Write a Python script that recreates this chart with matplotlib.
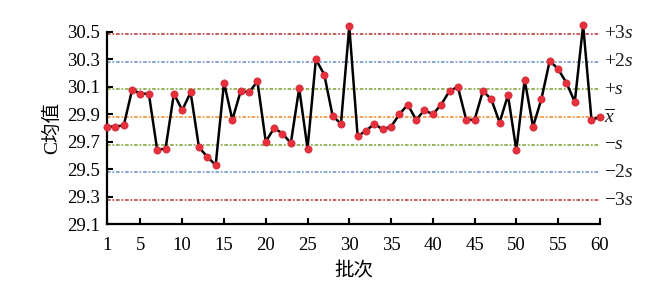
import matplotlib
matplotlib.use('Agg')
import matplotlib.pyplot as plt
import matplotlib.transforms as mtransforms
import numpy as np

plt.rcParams['font.family'] = ['Liberation Serif', 'Noto Sans CJK SC']
plt.rcParams['mathtext.fontset'] = 'custom'
plt.rcParams['mathtext.rm'] = 'Liberation Serif'
plt.rcParams['mathtext.it'] = 'Liberation Serif:italic'

# batch numbers and mean C values per batch
batches = np.arange(1, 61)
c_mean = [29.81, 29.81, 29.82, 30.08, 30.05, 30.05, 29.64, 29.65, 30.05, 29.93,
          30.06, 29.66, 29.59, 29.53, 30.13, 29.86, 30.07, 30.06, 30.14, 29.70,
          29.80, 29.76, 29.69, 30.09, 29.65, 30.30, 30.19, 29.89, 29.83, 30.54,
          29.74, 29.78, 29.83, 29.79, 29.81, 29.90, 29.97, 29.86, 29.93, 29.90,
          29.97, 30.07, 30.10, 29.86, 29.86, 30.07, 30.01, 29.84, 30.04, 29.64,
          30.15, 29.81, 30.01, 30.29, 30.23, 30.13, 29.99, 30.55, 29.86, 29.88]

# control limits
centre = 29.88
sigma = 0.202
limit_k = [3, 2, 1, 0, -1, -2, -3]
limit_labels = [r'$+3s$', r'$+2s$', r'$+s$', r'$\overline{x}$', r'$-s$', r'$-2s$', r'$-3s$']
limit_colors = ['#c0504d', '#7f9fcf', '#8fae4f', '#f79646', '#8fae4f', '#7f9fcf', '#c0504d']

xticks = [1, 5, 10, 15, 20, 25, 30, 35, 40, 45, 50, 55, 60]
yticks = [29.1, 29.3, 29.5, 29.7, 29.9, 30.1, 30.3, 30.5]

fig = plt.figure(figsize=(6.57, 2.88), dpi=100)
ax = fig.add_axes([0.163, 0.222, 0.75, 0.667])

trans = mtransforms.blended_transform_factory(ax.transAxes, ax.transData)
for k, lab, col in zip(limit_k, limit_labels, limit_colors):
    yv = centre + k * sigma
    ax.axhline(yv, color=col, lw=1.3, ls=(0, (2, 1, 1, 1)), zorder=1)
    ax.text(1.008, yv, lab, transform=trans, fontsize=14, va='center',
            ha='left', color='#1a1a1a')

ax.plot(batches, c_mean, color='black', lw=1.8, zorder=3, clip_on=False)
ax.plot(batches, c_mean, 'o', ms=5.2, mfc='#e8303a', mec='#c8283a', mew=0.5,
        zorder=4, clip_on=False)

ax.set_xlim(1, 60)
ax.set_ylim(29.1, 30.5)
ax.set_xticks(xticks)
ax.set_yticks(yticks)
ax.set_yticklabels(['%.1f' % v for v in yticks])
ax.tick_params(direction='in', length=4, width=1.5, labelsize=13.5)
ax.tick_params(axis='x', pad=9)
ax.tick_params(axis='y', pad=5)
for side in ['top', 'right']:
    ax.spines[side].set_visible(False)
for side in ['left', 'bottom']:
    ax.spines[side].set_linewidth(1.6)

ax.set_xlabel('批次', fontsize=14, labelpad=6)
ax.set_ylabel('C均值', fontsize=14, labelpad=4)

fig.savefig('out.png', dpi=100)
